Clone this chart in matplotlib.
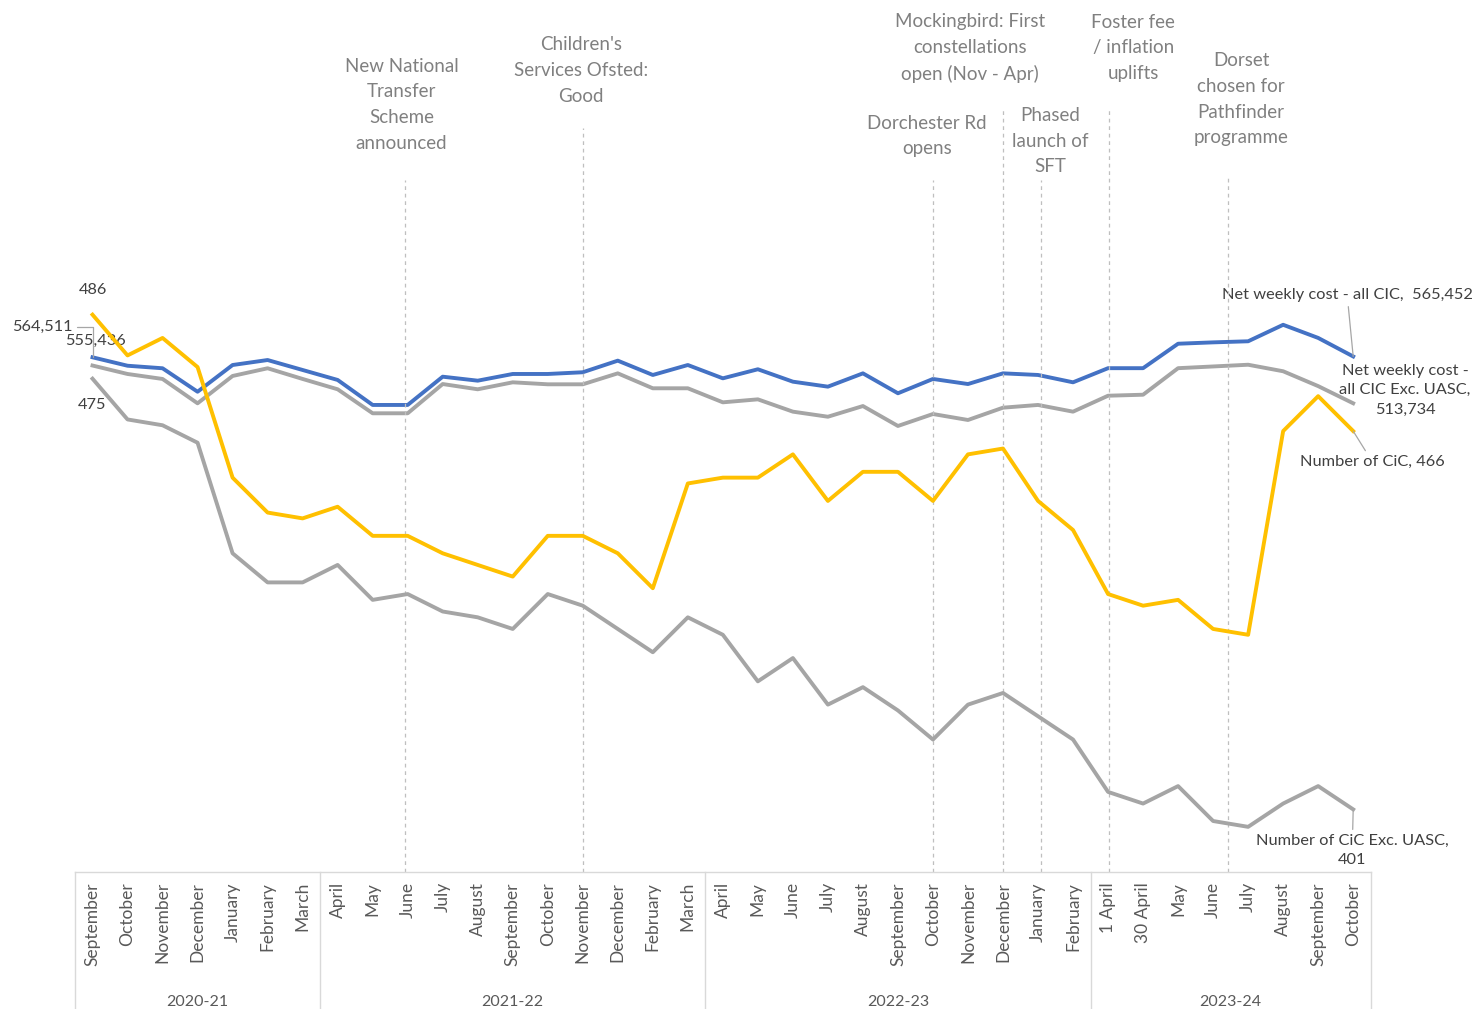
import matplotlib.pyplot as plt

plt.rcParams['font.family'] = ['Lato', 'DejaVu Sans']

months = ['September', 'October', 'November', 'December', 'January', 'February', 'March',
          'April', 'May', 'June', 'July', 'August', 'September', 'October', 'November',
          'December', 'February', 'March',
          'April', 'May', 'June', 'July', 'August', 'September', 'October', 'November',
          'December', 'January', 'February',
          '1 April', '30 April', 'May', 'June', 'July', 'August', 'September', 'October']
years = ['2020-21', '2021-22', '2022-23', '2023-24']
year_bounds = [-0.5, 6.5, 17.5, 28.5, 36.5]

cic_all = [486, 479, 482, 477, 458, 452, 451, 453, 448, 448, 445, 443, 441, 448, 448,
           445, 439, 457, 458, 458, 462, 454, 459, 459, 454, 462, 463, 454, 449,
           438, 436, 437, 432, 431, 466, 472, 466]
cic_exc_uasc = [475, 468, 467, 464, 445, 440, 440, 443, 437, 438, 435, 434, 432, 438, 436,
                432, 428, 434, 431, 423, 427, 419, 422, 418, 413, 419, 421, 417, 413,
                404, 402, 405, 399, 398, 402, 405, 401]
cost_all = [564511, 555200, 552400, 526500, 556000, 561500, 550500, 539500, 511900, 511900,
            543100, 538700, 546100, 546100, 548000, 560800, 545000, 556000, 541300, 551300,
            537600, 532100, 546800, 524800, 540600, 535000, 546800, 545000, 536900,
            552500, 552500, 579500, 581000, 582200, 600400, 585900, 565452]
cost_exc_uasc = [555436, 546100, 540600, 513700, 543900, 552400, 540600, 529200, 502700, 502700,
                 535000, 529200, 536900, 534700, 534700, 546800, 530300, 530300, 514800, 518100,
                 504500, 498900, 510700, 488700, 501900, 495300, 508900, 511900, 504500,
                 522100, 523200, 552500, 554400, 556300, 549100, 532700, 513734]

events = ['New National\nTransfer\nScheme\nannounced',
          "Children's\nServices Ofsted:\nGood",
          'Dorchester Rd\nopens',
          'Mockingbird: First\nconstellations\nopen (Nov - Apr)',
          'Phased\nlaunch of\nSFT',
          'Foster fee\n/ inflation\nuplifts',
          'Dorset\nchosen for\nPathfinder\nprogramme']
event_x = [8.93, 14.0, 24.0, 26.0, 27.08, 29.03, 32.43]
event_line_top = [0.794, 0.853, 0.794, 0.876, 0.794, 0.874, 0.797]
event_text_x = [8.82, 13.95, 23.83, 25.06, 27.35, 29.72, 32.8]
event_text_y = [0.880, 0.919, 0.844, 0.945, 0.838, 0.945, 0.886]

BLUE = '#4472C4'
YELLOW = '#FFC000'
GREY = '#A5A5A5'
TEXT = '#404040'
NOTE = '#808080'

fig = plt.figure(figsize=(14.76, 10.09), dpi=100)
ax = fig.add_axes([75 / 1476, 137 / 1009, 1295.7 / 1476, 872 / 1009])
ax2 = ax.twinx()

x = list(range(len(months)))
ax2.plot(x, cost_exc_uasc, color=GREY, lw=2.8, zorder=3)
ax2.plot(x, cost_all, color=BLUE, lw=2.8, zorder=3)
ax.plot(x, cic_exc_uasc, color=GREY, lw=2.8, zorder=3)
ax.plot(x, cic_all, color=YELLOW, lw=2.8, zorder=3)

ax.set_xlim(-0.5, 36.5)
ax.set_ylim(390.24, 540.07)
ax2.set_ylim(-3718, 958970)

for a in (ax, ax2):
    a.set_yticks([])
    a.set_xticks([])
    for s in a.spines.values():
        s.set_visible(False)
ax.set_zorder(ax2.get_zorder() + 1)
ax.patch.set_visible(False)

# event markers
tr = ax.get_xaxis_transform()
for ex, top in zip(event_x, event_line_top):
    ax.plot([ex, ex], [0, top], transform=tr, color='#BFBFBF', lw=0.9, ls=(0, (3, 3)), zorder=1)
for txt, tx, ty in zip(events, event_text_x, event_text_y):
    ax.text(tx, ty, txt, transform=tr, ha='center', va='center', fontsize=13.5,
            color=NOTE, linespacing=1.62)

# category axis
ax.plot([-0.5, 36.5], [0, 0], transform=tr, color='#D9D9D9', lw=1, clip_on=False)
for b in year_bounds:
    ax.plot([b, b], [0, -0.16], transform=tr, color='#D9D9D9', lw=1, clip_on=False)
for i, m in enumerate(months):
    ax.text(i, -0.0115, m, transform=tr, rotation=90, ha='center', va='top',
            fontsize=12.5, color='#595959')
for y, lo, hi in zip(years, year_bounds[:-1], year_bounds[1:]):
    ax.text((lo + hi) / 2, -0.149, y, transform=tr, ha='center', va='center',
            fontsize=11.5, color='#595959')

# data labels
lead = dict(arrowstyle='-', color='#A6A6A6', lw=0.9, shrinkA=1, shrinkB=0)
kw = dict(textcoords='offset points', fontsize=11.8, color=TEXT, annotation_clip=False, zorder=5)
ax.annotate(f'{cic_all[0]}', (0, cic_all[0]), xytext=(0, 18), ha='center', va='center', **kw)
ax.annotate(f'{cic_exc_uasc[0]}', (0, cic_exc_uasc[0]), xytext=(0, -19), ha='center', va='center', **kw)
ax2.annotate(f'{cost_all[0]:,}', (0, cost_all[0]), xytext=(-14, 21.6), ha='right', va='center',
             arrowprops=dict(lead, connectionstyle='angle,angleA=0,angleB=90'), **kw)
ax2.annotate(f'{cost_exc_uasc[0]:,}', (0, cost_exc_uasc[0]), xytext=(2, 17.6), ha='center', va='center', **kw)
ax2.annotate(f'Net weekly cost - all CIC,  {cost_all[-1]:,}', (36, cost_all[-1]), xytext=(-4.3, 43.9),
             ha='center', va='center', arrowprops=lead, **kw)
ax2.annotate(f'Net weekly cost -\nall CIC Exc. UASC,\n{cost_exc_uasc[-1]:,}', (36, cost_exc_uasc[-1]),
             xytext=(37.4, 9.4), ha='center', va='center', linespacing=1.5, **kw)
ax.annotate(f'Number of CiC, {cic_all[-1]}', (36, cic_all[-1]), xytext=(13.7, -22),
            ha='center', va='center', arrowprops=lead, **kw)
ax.annotate(f'Number of CiC Exc. UASC,\n{cic_exc_uasc[-1]}', (36, cic_exc_uasc[-1]), xytext=(-0.7, -29.5),
            ha='center', va='center', linespacing=1.5, arrowprops=lead, **kw)

fig.savefig('out.png', dpi=100)
